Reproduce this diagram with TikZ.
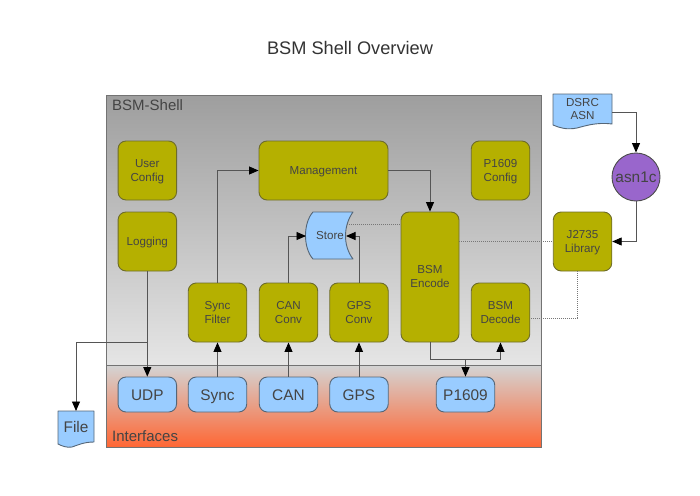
\documentclass[tikz,border=0pt]{standalone}
\usepackage{fontspec}
\setmainfont{Liberation Sans}
\usetikzlibrary{arrows.meta,calc}
\definecolor{olivefill}{HTML}{B5B000}
\definecolor{oliveline}{HTML}{6E6C2A}
\definecolor{bluefill}{HTML}{99CCFF}
\definecolor{blueline}{HTML}{556677}
\definecolor{txt}{HTML}{444444}
\definecolor{conn}{HTML}{555555}
\definecolor{orangeend}{HTML}{FF6633}
\definecolor{purplefill}{HTML}{9966CC}
\newcommand{\ot}[1]{\vbox{\kern2pt\hbox{\begin{tabular}{@{}c@{}}#1\end{tabular}}}}
\tikzset{
  box/.style={draw=#1,line width=0.9pt,rounded corners=8pt,inner sep=0pt,text=txt,font=\fontsize{11.6}{14}\selectfont},
  olivebox/.style={box=oliveline,fill=olivefill},
  ifacebox/.style={box=blueline,fill=bluefill,minimum width=58.5pt,minimum height=35pt,text height=11pt,text depth=0pt,font=\fontsize{15.4}{18}\selectfont},
  sq/.style={olivebox,minimum width=58.5pt,minimum height=59pt},
  arr/.style={draw=conn,line width=0.9pt,-{Triangle[length=9.5pt,width=8pt,fill=black,color=black]}},
  dots/.style={draw=conn!80,line width=0.9pt,line cap=butt,dash pattern=on 1pt off 1pt},
  lab/.style={anchor=west,text=txt,inner sep=0pt,font=\fontsize{15}{18}\selectfont},
  docshape/.style={fill=bluefill,draw=blueline,line width=0.9pt,line join=round},
  freetext/.style={text=txt,inner sep=0pt,align=center}
}
\begin{document}
\begin{tikzpicture}[x=1pt,y=-1pt]
\useasboundingbox (0,0) rectangle (700,495);
\node[freetext,text=black!80,font=\fontsize{18.2}{20}\selectfont] (title) at (350,48) {BSM Shell Overview};
% regions
\node[draw=black!55,line width=0.9pt,top color=black!38,bottom color=black!10,minimum width=435pt,minimum height=270pt,inner sep=0pt,anchor=north west] (shell) at (106,95) {};
\node[draw=black!55,line width=0.9pt,top color=black!17,bottom color=orangeend,minimum width=435pt,minimum height=82pt,inner sep=0pt,anchor=north west] (iface) at (106,365) {};
\node[lab] (shelllab) at (112,105) {BSM-Shell};
\node[lab] (ifacelab) at (112,436) {Interfaces};
% olive boxes
\node[sq] (user) at (147.3,170.5) {\ot{User\\Config}};
\node[sq] (logging) at (147.3,241.5) {\ot{Logging}};
\node[olivebox,minimum width=129pt,minimum height=59pt] (mgmt) at (323.5,170.5) {\ot{Management}};
\node[sq] (pconf) at (500.5,170.5) {\ot{P1609\\Config}};
\node[olivebox,minimum width=58pt,minimum height=130pt] (enc) at (430,277) {\ot{BSM\\Encode}};
\node[sq] (dec) at (500.5,312.5) {\ot{BSM\\Decode}};
\node[sq] (syncf) at (217.5,312.5) {\ot{Sync\\Filter}};
\node[sq] (canc) at (288.5,312.5) {\ot{CAN\\Conv}};
\node[sq] (gpsc) at (359,312.5) {\ot{GPS\\Conv}};
\node[sq] (lib) at (582.5,241.5) {\ot{J2735\\Library}};
% interface boxes
\node[ifacebox] (udp) at (147.3,394.5) {UDP};
\node[ifacebox] (sync) at (217.5,394.5) {Sync};
\node[ifacebox] (can) at (288.5,394.5) {CAN};
\node[ifacebox] (gps) at (359,394.5) {GPS};
\node[ifacebox] (p1609) at (465.5,394.5) {P1609};
% store
\draw[docshape] (313,212) -- (353,212) .. controls (343,226) and (343,246) .. (353,259) -- (313,259) .. controls (303,248) and (303,223) .. (313,212) -- cycle;
\node[freetext,font=\fontsize{11.6}{14}\selectfont] (store) at (330,236) {Store};
\coordinate (storeL) at (306,236);
\coordinate (storeR) at (346,236);
\coordinate (storeD) at (347,224);
% documents
\draw[docshape] (553,94) -- (612,94) -- (612,124) .. controls (596,122) and (585,126) .. (577,128) .. controls (567,130) and (560,128) .. (553,125) -- cycle;
\node[freetext,font=\fontsize{11.6}{13.5}\selectfont] (dsrc) at (582.5,109) {DSRC\\ASN};
\coordinate (dsrcR) at (612,112);
\draw[docshape] (58,411) -- (94,411) -- (94,442) .. controls (84,442) and (78,445) .. (72,447) .. controls (67,448) and (62,446) .. (58,444) -- cycle;
\node[freetext,font=\fontsize{15.4}{18}\selectfont] (file) at (76,427) {File};
\coordinate (fileT) at (76,411);
% circle
\node[draw=black!70,line width=0.9pt,fill=purplefill,circle,minimum size=48pt,inner sep=0pt,text=txt,font=\fontsize{15.4}{18}\selectfont] (asn) at (636,177) {asn1c};
% connectors
\coordinate (branch) at (147.3,342);
\draw[arr] (logging.south) -- (udp.north);
\draw[arr] (branch) -| (fileT);
\draw[arr] (sync.north) -- (syncf.south);
\draw[arr] (can.north) -- (canc.south);
\draw[arr] (gps.north) -- (gpsc.south);
\draw[arr] (syncf.north) |- (mgmt.west);
\draw[arr] (mgmt.east) -| (enc.north);
\draw[arr] (canc.north) |- (storeL);
\draw[arr] (gpsc.north) |- (storeR);
\draw[dots] (storeD) -- (enc.west |- storeD);
\draw[dots] (enc.east |- lib.west) -- (lib.west);
\coordinate (libb) at (577,271);
\coordinate (libc) at (577,318);
\draw[dots] (libb) -- (libc) -- (dec.east |- libc);
\draw[arr] (dsrcR) -| (asn.north);
\draw[arr] (asn.south) |- (lib.east);
\coordinate (encbus) at (430,359);
\coordinate (busp) at (p1609.north |- encbus);
\draw[arr] (enc.south) -- (encbus) -| (dec.south);
\draw[arr] (busp) -- (p1609.north);
\end{tikzpicture}
\end{document}
